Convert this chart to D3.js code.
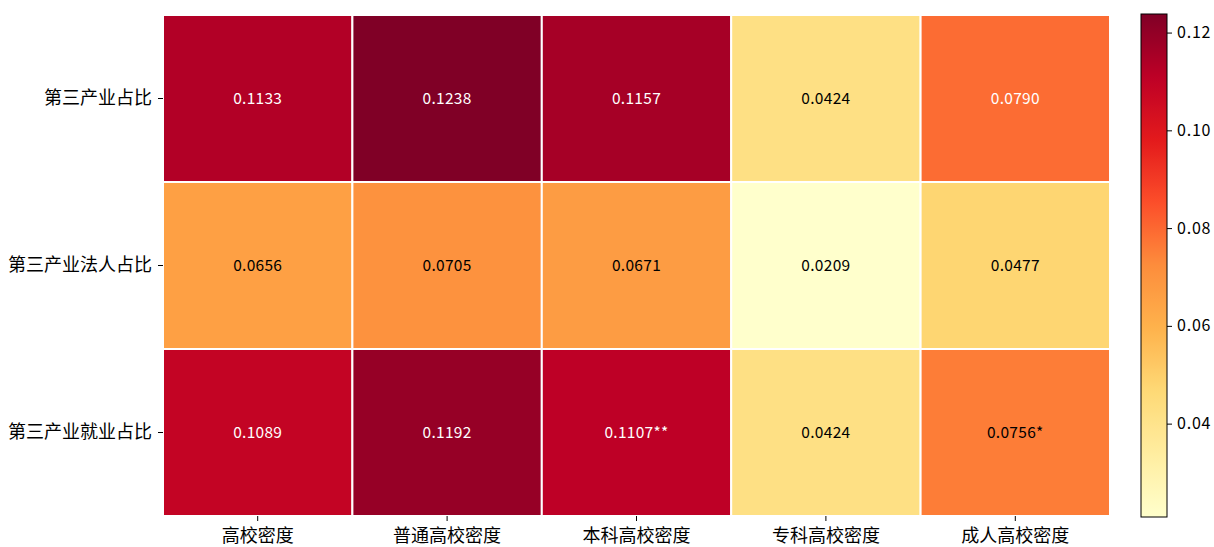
<!DOCTYPE html>
<html>
<head>
<meta charset="utf-8">
<script src="https://cdn.jsdelivr.net/npm/d3@7"></script>
<style>
  html, body { margin: 0; padding: 0; background: #fff; }
  svg { display: block; }
  text { font-family: "Noto Sans CJK SC", "DejaVu Sans", sans-serif; }
</style>
</head>
<body>
<svg id="chart" width="1214" height="547"></svg>
<script>
// Row and column categories of the correlation heatmap
const rowLabels = ["第三产业占比", "第三产业法人占比", "第三产业就业占比"];
const colLabels = ["高校密度", "普通高校密度", "本科高校密度", "专科高校密度", "成人高校密度"];

// Coefficients, one array per row
const row1Values = [0.1133, 0.1238, 0.1157, 0.0424, 0.0790];
const row2Values = [0.0656, 0.0705, 0.0671, 0.0209, 0.0477];
const row3Values = [0.1089, 0.1192, 0.1107, 0.0424, 0.0756];

// Significance markers appended to the cell annotations
const row1Marks = ["", "", "", "", ""];
const row2Marks = ["", "", "", "", ""];
const row3Marks = ["", "", "**", "", "*"];

// Colour bar tick values
const colorbarTicks = [0.04, 0.06, 0.08, 0.10, 0.12];

const rowValues = [row1Values, row2Values, row3Values];
const rowMarks = [row1Marks, row2Marks, row3Marks];

const cells = [];
rowLabels.forEach((r, i) => {
  colLabels.forEach((c, j) => {
    cells.push({ row: r, col: c, value: rowValues[i][j], mark: rowMarks[i][j] });
  });
});

const svg = d3.select("#chart");

const plot = { left: 163, top: 15, right: 1110, bottom: 516 };
const cbar = { left: 1141, right: 1167, top: 14, bottom: 517 };

const allValues = cells.map(d => d.value);
const vmin = d3.min(allValues), vmax = d3.max(allValues);

// YlOrRd, linearly interpolated between the 9 ColorBrewer anchors
const anchors = d3.schemeYlOrRd[9];
const color = d3.scaleLinear()
  .domain(anchors.map((_, k) => vmin + (vmax - vmin) * k / (anchors.length - 1)))
  .range(anchors)
  .interpolate(d3.interpolateRgb)
  .clamp(true);

const x = d3.scaleBand().domain(colLabels).range([plot.left, plot.right]).padding(0);
const y = d3.scaleBand().domain(rowLabels).range([plot.top, plot.bottom]).padding(0);

// Cells
svg.append("g")
  .selectAll("rect")
  .data(cells)
  .join("rect")
  .attr("x", d => x(d.col))
  .attr("y", d => y(d.row))
  .attr("width", x.bandwidth())
  .attr("height", y.bandwidth())
  .attr("fill", d => color(d.value))
  .attr("stroke", "#fff")
  .attr("stroke-width", 2);

// Annotations
svg.append("g")
  .selectAll("text")
  .data(cells)
  .join("text")
  .attr("x", d => x(d.col) + x.bandwidth() / 2)
  .attr("y", d => y(d.row) + y.bandwidth() / 2)
  .attr("dy", -2)
  .attr("text-anchor", "middle")
  .attr("dominant-baseline", "central")
  .attr("font-size", 15.5)
  .attr("letter-spacing", 0.3)
  .attr("fill", d => d.value > 0.077 ? "#ffffff" : "#000000")
  .text(d => d.value.toFixed(4) + d.mark);

// Axes
const xAxis = svg.append("g")
  .attr("transform", `translate(0,${plot.bottom})`)
  .call(d3.axisBottom(x).tickSize(5).tickPadding(8));
xAxis.select(".domain").remove();
xAxis.selectAll("text").attr("font-size", 18).attr("fill", "#000")
  .attr("font-family", "Noto Sans CJK SC");
xAxis.selectAll("line").attr("stroke", "#000");

const yAxis = svg.append("g")
  .attr("transform", `translate(${plot.left},0)`)
  .call(d3.axisLeft(y).tickSize(5).tickPadding(6));
yAxis.select(".domain").remove();
yAxis.selectAll("text").attr("font-size", 18).attr("fill", "#000")
  .attr("font-family", "Noto Sans CJK SC");
yAxis.selectAll("line").attr("stroke", "#000");

// Colour bar
const cScale = d3.scaleLinear().domain([vmin, vmax]).range([cbar.bottom, cbar.top]);
const defs = svg.append("defs");
const grad = defs.append("linearGradient")
  .attr("id", "cbar-grad")
  .attr("x1", 0).attr("y1", 1).attr("x2", 0).attr("y2", 0);
d3.range(0, 101).forEach(k => {
  const t = k / 100;
  grad.append("stop")
    .attr("offset", t)
    .attr("stop-color", color(vmin + (vmax - vmin) * t));
});
svg.append("rect")
  .attr("x", cbar.left)
  .attr("y", cbar.top)
  .attr("width", cbar.right - cbar.left)
  .attr("height", cbar.bottom - cbar.top)
  .attr("fill", "url(#cbar-grad)")
  .attr("stroke", "#000")
  .attr("stroke-width", 1);

const cAxis = svg.append("g")
  .attr("transform", `translate(${cbar.right},0)`)
  .call(d3.axisRight(cScale).tickValues(colorbarTicks).tickFormat(d3.format(".2f")).tickSize(5).tickPadding(5));
cAxis.select(".domain").remove();
cAxis.selectAll("text").attr("font-size", 16).attr("letter-spacing", 0.8).attr("fill", "#000")
  .attr("font-family", "Noto Sans CJK SC");
cAxis.selectAll("line").attr("stroke", "#000");
</script>
</body>
</html>
